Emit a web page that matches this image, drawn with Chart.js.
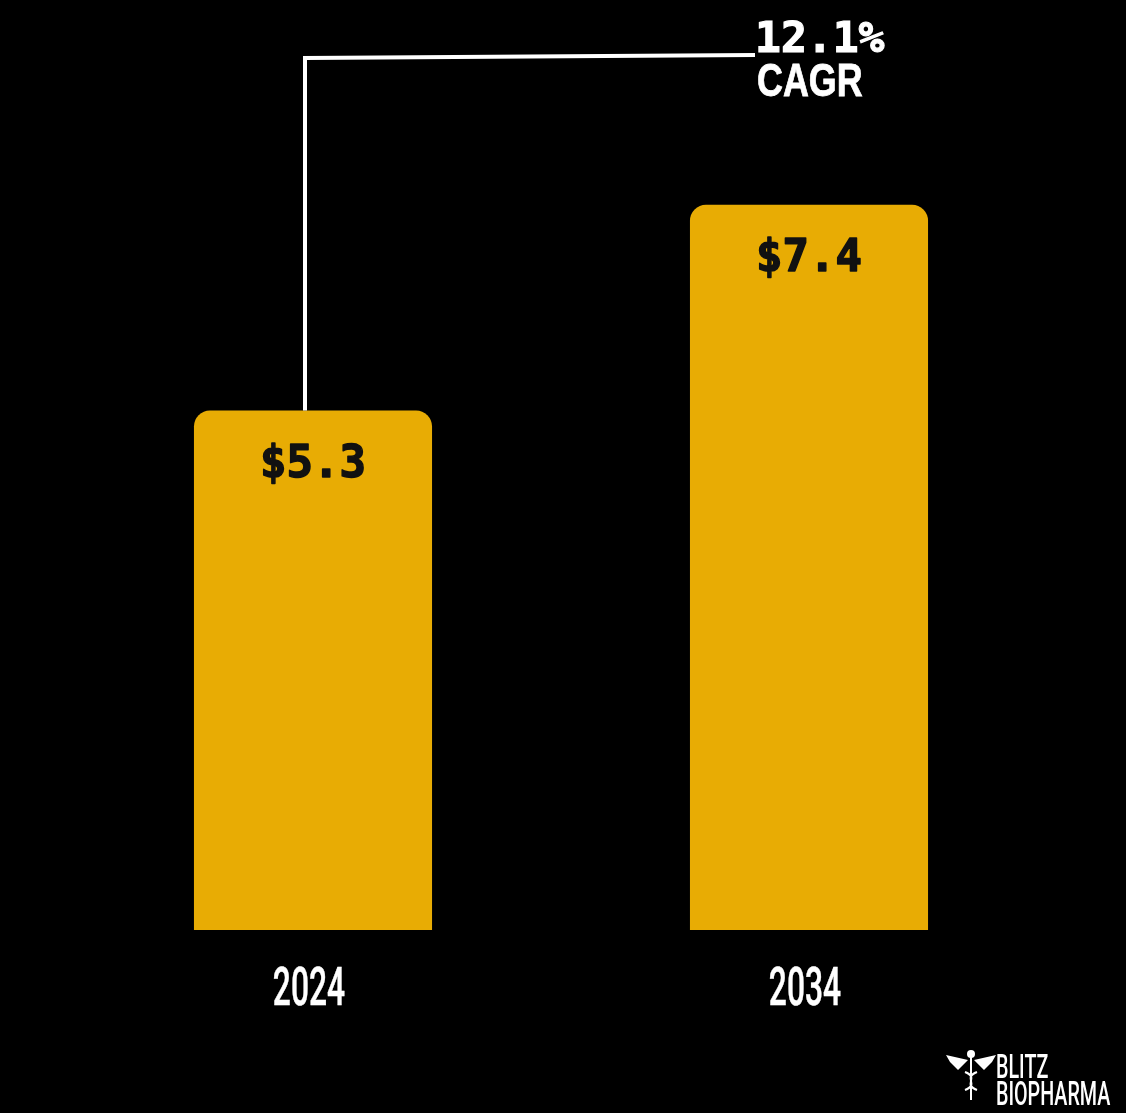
<!DOCTYPE html>
<html>
<head>
<meta charset="utf-8">
<script src="https://cdn.jsdelivr.net/npm/chart.js@4.4.1/dist/chart.umd.min.js"></script>
<style>
  html, body { margin: 0; padding: 0; background: #000; }
  #wrap { width: 1126px; height: 1113px; position: relative; }
</style>
</head>
<body>
<div id="wrap"><canvas id="grafica"></canvas></div>
<script>
// Datos de la grafica
var years = ['2024', '2034'];
var values = [5.3, 7.4];
var valueLabels = ['$5.3', '$7.4'];
var cagrText = ['12.1%', 'CAGR'];
var brandText = ['BLITZ', 'BIOPHARMA'];

var gold = '#E8AC04';

// texto condensado (escala horizontal)
function condensedText(ctx, text, x, y, font, sx, align, stroke) {
    ctx.save();
    ctx.font = font;
    var w = ctx.measureText(text).width * sx;
    var left = align === 'center' ? x - w / 2 : x;
    ctx.translate(left, y);
    ctx.scale(sx, 1);
    ctx.textAlign = 'left';
    ctx.fillText(text, 0, 0);
    if (stroke) {
        ctx.lineWidth = stroke;
        ctx.strokeText(text, 0, 0);
    }
    ctx.restore();
}

var extras = {
    id: 'extras',
    afterDatasetsDraw: function (chart) {
        var ctx = chart.ctx;
        var meta = chart.getDatasetMeta(0);
        var area = chart.chartArea;

        // etiquetas de valor dentro de las barras
        ctx.save();
        ctx.fillStyle = '#111';
        ctx.strokeStyle = '#111';
        ctx.lineWidth = 1.5;
        ctx.lineJoin = 'round';
        ctx.font = 'bold 44px "DejaVu Sans Mono"';
        ctx.textAlign = 'center';
        ctx.textBaseline = 'middle';
        meta.data.forEach(function (bar, i) {
            ctx.fillText(valueLabels[i], bar.x, bar.y + 55);
            ctx.strokeText(valueLabels[i], bar.x, bar.y + 55);
        });
        ctx.restore();

        // anos en el eje x
        ctx.save();
        ctx.fillStyle = '#fff';
        ctx.strokeStyle = '#fff';
        ctx.textBaseline = 'alphabetic';
        meta.data.forEach(function (bar, i) {
            condensedText(ctx, years[i], bar.x - 4, area.bottom + 75, '500 53px Roboto', 0.6, 'center', 0.5);
        });
        ctx.restore();

        // linea CAGR
        var b0 = meta.data[0];
        ctx.save();
        ctx.strokeStyle = '#fff';
        ctx.lineWidth = 4;
        ctx.beginPath();
        ctx.moveTo(b0.x - 8, b0.y);
        ctx.lineTo(b0.x - 8, 58);
        ctx.lineTo(755, 55);
        ctx.stroke();

        ctx.fillStyle = '#fff';
        ctx.strokeStyle = '#fff';
        ctx.textAlign = 'left';
        ctx.textBaseline = 'alphabetic';
        ctx.font = 'bold 43px "DejaVu Sans Mono"';
        ctx.lineWidth = 1.2;
        ctx.fillText(cagrText[0], 755, 52);
        ctx.strokeText(cagrText[0], 755, 52);
        condensedText(ctx, cagrText[1], 757, 96, 'bold 46px "Liberation Sans"', 0.78, 'left', 0.8);
        ctx.restore();

        // logo
        ctx.save();
        ctx.fillStyle = '#fff';
        ctx.strokeStyle = '#fff';
        condensedText(ctx, brandText[0], 996, 1078, '500 34px Roboto', 0.58, 'left');
        condensedText(ctx, brandText[1], 996, 1105, '500 34px Roboto', 0.58, 'left');
        // caduceo simple
        ctx.lineWidth = 2;
        ctx.beginPath();
        ctx.moveTo(971, 1056); ctx.lineTo(971, 1100);
        ctx.stroke();
        ctx.beginPath();
        ctx.arc(971, 1054, 4, 0, Math.PI * 2);
        ctx.fill();
        ctx.beginPath();
        ctx.moveTo(968, 1060); ctx.lineTo(946, 1055); ctx.lineTo(950, 1062); ctx.lineTo(958, 1070); ctx.closePath();
        ctx.moveTo(974, 1060); ctx.lineTo(996, 1055); ctx.lineTo(992, 1062); ctx.lineTo(984, 1070); ctx.closePath();
        ctx.fill();
        ctx.beginPath();
        ctx.moveTo(965, 1072); ctx.bezierCurveTo(980, 1078, 962, 1084, 977, 1090);
        ctx.moveTo(977, 1072); ctx.bezierCurveTo(962, 1078, 980, 1084, 965, 1090);
        ctx.stroke();
        ctx.restore();
    }
};

var ctx = document.getElementById('grafica');
window.myBar = new Chart(ctx, {
    type: 'bar',
    data: {
        labels: years,
        datasets: [{
            label: 'Mercado',
            data: values,
            backgroundColor: gold,
            borderWidth: 0,
            borderRadius: { topLeft: 16, topRight: 16, bottomLeft: 0, bottomRight: 0 },
            borderSkipped: false,
            categoryPercentage: 1,
            barPercentage: 0.48
        }]
    },
    options: {
        responsive: true,
        maintainAspectRatio: false,
        animation: false,
        layout: { padding: { left: 65, right: 69, top: 48, bottom: 183 } },
        plugins: {
            legend: { display: false },
            title: { display: false },
            tooltip: { enabled: false }
        },
        scales: {
            x: { display: false },
            y: { display: false, min: 0, max: 9 }
        }
    },
    plugins: [extras]
});
</script>
</body>
</html>
